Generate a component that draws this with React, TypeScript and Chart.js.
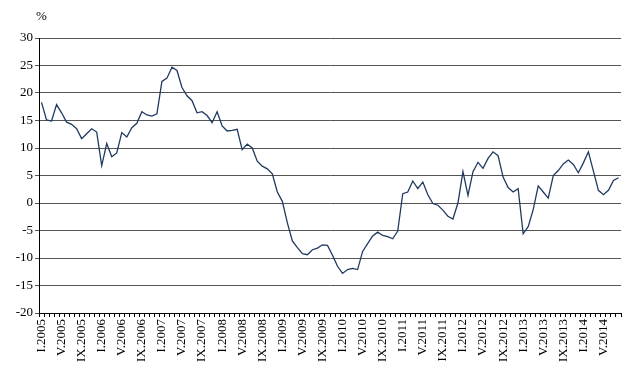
import React, { useEffect, useRef } from "react";
import { Chart, registerables } from "chart.js";

Chart.register(...registerables);

const romanMonths = ["I", "II", "III", "IV", "V", "VI", "VII", "VIII", "IX", "X", "XI", "XII"];
const startYear = 2005;
const monthCount = 116;
const categories: string[] = [];
for (let i = 0; i < monthCount; i++) {
  categories.push(romanMonths[i % 12] + "." + (startYear + Math.floor(i / 12)));
}

const values: number[] = [
  18.3, 15.1, 14.9, 17.9, 16.4, 14.7, 14.3, 13.5, 11.7, 12.6, 13.5, 12.9,
  6.8, 10.8, 8.4, 9.1, 12.8, 12.0, 13.7, 14.5, 16.6, 16.0, 15.8, 16.2,
  22.1, 22.7, 24.7, 24.1, 21.0, 19.5, 18.6, 16.4, 16.6, 15.9, 14.6, 16.6,
  14.0, 13.1, 13.2, 13.4, 9.7, 10.7, 10.0, 7.6, 6.7, 6.2, 5.3, 2.0,
  0.3, -3.6, -6.9, -8.1, -9.2, -9.4, -8.5, -8.2, -7.6, -7.7, -9.5, -11.5,
  -12.8, -12.1, -11.9, -12.1, -8.8, -7.4, -6.0, -5.3, -5.9, -6.1, -6.5, -5.1,
  1.7, 2.0, 4.0, 2.6, 3.8, 1.5, -0.1, -0.4, -1.3, -2.4, -2.9, 0.0,
  5.7, 1.4, 5.7, 7.4, 6.3, 8.1, 9.3, 8.6, 4.7, 2.8, 2.0, 2.6,
  -5.6, -4.3, -1.2, 3.1, 2.0, 0.9, 5.0, 5.9, 7.1, 7.8, 7.0, 5.5,
  7.3, 9.3, 5.8, 2.3, 1.5, 2.3, 4.1, 4.6,
];

const yMin = -20;
const yMax = 30;
const yStep = 5;
const labelEvery = 4;
const unitLabel = "%";

export default function App() {
  const canvasRef = useRef<HTMLCanvasElement | null>(null);

  useEffect(() => {
    if (!canvasRef.current) return;
    const font = { family: "'Liberation Serif', 'Times New Roman', serif", size: 13 };
    const chart = new Chart(canvasRef.current, {
      type: "line",
      data: {
        labels: categories,
        datasets: [
          {
            data: values,
            borderColor: "#1f3a60",
            borderWidth: 1.3,
            pointRadius: 0,
            tension: 0,
            fill: false,
          },
        ],
      },
      options: {
        animation: false,
        responsive: false,
        maintainAspectRatio: false,
        layout: { padding: { left: 0, right: 19, top: 38, bottom: 0 } },
        plugins: { legend: { display: false }, tooltip: { enabled: false } },
        scales: {
          x: {
            type: "category",
            offset: true,
            grid: {
              display: true,
              drawOnChartArea: false,
              drawTicks: true,
              tickLength: 4,
              offset: true,
              color: "#000",
            },
            border: { display: true, color: "#000", width: 1 },
            ticks: {
              autoSkip: false,
              minRotation: 90,
              maxRotation: 90,
              padding: 2,
              color: "#000",
              font,
              callback: (_v: any, i: number) => (i % labelEvery === 0 ? categories[i] : ""),
            },
            afterFit: (scale: any) => {
              scale.height = 67;
            },
          },
          y: {
            min: yMin,
            max: yMax,
            grid: { color: "#555", lineWidth: 1, tickLength: 4, drawTicks: true },
            border: { display: true, color: "#000", width: 1 },
            ticks: { stepSize: yStep, color: "#000", font, padding: 2 },
            afterFit: (scale: any) => {
              scale.width = 39;
            },
          },
        },
      },
    });
    return () => chart.destroy();
  }, []);

  return (
    <div style={{ position: "fixed", left: 0, top: 0, width: 640, height: 380, background: "#fff" }}>
      <canvas ref={canvasRef} width={640} height={380} style={{ display: "block" }} />
      <div
        style={{
          position: "absolute",
          left: 36,
          top: 8,
          fontFamily: "'Liberation Serif', 'Times New Roman', serif",
          fontSize: 13,
          color: "#000",
        }}
      >
        {unitLabel}
      </div>
    </div>
  );
}
